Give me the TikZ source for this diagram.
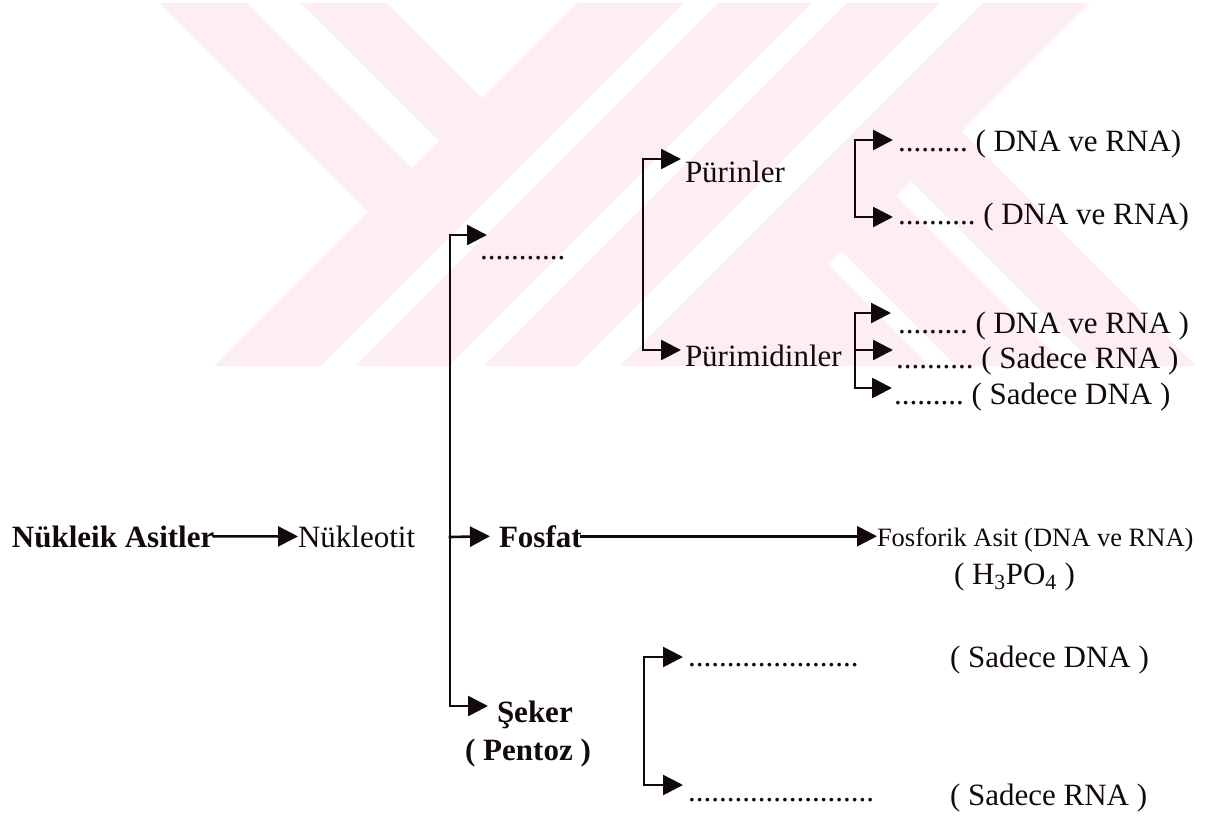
\documentclass[tikz,border=0pt]{standalone}
\usepackage{fontspec}
\setmainfont{Liberation Serif}
\usetikzlibrary{arrows.meta}
\definecolor{wm}{RGB}{253,238,241}
\definecolor{ink}{RGB}{18,10,10}
\tikzset{
  txt/.style={inner sep=0pt, outer sep=0pt, anchor=base west, text=ink,
    font=\fontsize{31}{36}\selectfont\frenchspacing},
  btxt/.style={txt, font=\fontsize{31}{36}\selectfont\bfseries\frenchspacing},
  stxt/.style={txt, font=\fontsize{26.5}{30}\selectfont\frenchspacing},
  ln/.style={draw=ink, line width=2.6pt, line cap=rect},
  arr/.style={ln, -{Triangle[length=20pt,width=20pt]}},
}
\begin{document}
\begin{tikzpicture}[x=1pt,y=-1pt]
\useasboundingbox (0,0) rectangle (1228,818);
% watermark stripes
\fill[wm] (577,3) -- (684,3) -- (321,366) -- (214,366) -- cycle;
\fill[wm] (159,3) -- (247,3) -- (422,178) -- (378,222) -- cycle;
\fill[wm] (301,3) -- (387,3) -- (492,108) -- (449,151) -- cycle;
\fill[wm] (718,3) -- (812,3) -- (449,366) -- (355,366) -- cycle;
\fill[wm] (847,3) -- (940,3) -- (577,366) -- (484,366) -- cycle;
\fill[wm] (983,3) -- (1090,3) -- (727,366) -- (620,366) -- cycle;
\fill[wm] (901.5,171.5) -- (951.5,121.5) -- (1196,366) -- (1096,366) -- cycle;
\fill[wm] (831.5,241.5) -- (886.5,186.5) -- (1066,366) -- (956,366) -- cycle;
\fill[wm] (818,255) -- (929,366) -- (707,366) -- cycle;

% main row
\node[btxt] (na) at (12,547) {Nükleik Asitler};
\node[txt] (nt) at (298,547) {Nükleotit};
\draw[arr] (na.east) -- (nt.west);

% first fork
\coordinate (v1t) at (450,235);
\coordinate (v1b) at (450,706);
\coordinate (vf) at (450,537);
\coordinate (a1) at (487,235);
\coordinate (a3) at (488,706);
\draw[ln] (v1t) -- (v1b);
\node[txt] (d1) at (480,259) {...........};
\draw[arr] (v1t) -- (a1);
\node[btxt] (fos) at (499,547) {Fosfat};
\draw[arr] (vf) -- ([xshift=-9pt]fos.west);
\node[stxt] (fk) at (877,546) {Fosforik Asit (DNA ve RNA)};
\draw[arr] (fos.east) -- (fos.east -| fk.west);
\node[txt] (hp) at (954,584) {( H\textsubscript{3}PO\textsubscript{4} )};
\node[btxt] (sk) at (497,722) {Şeker};
\node[btxt, anchor=base] (pz) at (528,760) {( Pentoz )};
\draw[arr] (v1b) -- (a3);

% purin / pirimidin fork
\coordinate (v2t) at (643,159);
\coordinate (v2b) at (643,350);
\coordinate (p1) at (681,159);
\coordinate (p2) at (681,350);
\draw[ln] (v2t) -- (v2b);
\draw[arr] (v2t) -- (p1);
\draw[arr] (v2b) -- (p2);
\node[txt] (pu) at (685,183) {Pürinler};
\node[txt] (pm) at (685,366) {Pürimidinler};

% purinler sub
\coordinate (v3t) at (855,140);
\coordinate (v3b) at (855,217);
\coordinate (q1) at (893,140);
\coordinate (q2) at (893,217);
\draw[ln] (v3t) -- (v3b);
\draw[arr] (v3t) -- (q1);
\draw[arr] (v3b) -- (q2);
\node[txt] (r1) at (898,152) {......... ( DNA ve RNA)};
\node[txt] (r2) at (898,225) {.......... ( DNA ve RNA)};

% pirimidinler sub
\coordinate (v4t) at (855,313);
\coordinate (v4m) at (855,350);
\coordinate (v4b) at (855,388);
\coordinate (q3) at (891,313);
\coordinate (q4) at (893,350);
\coordinate (q5) at (892,388);
\draw[ln] (v4t) -- (v4b);
\draw[arr] (v4t) -- (q3);
\draw[arr] (v4m) -- (q4);
\draw[arr] (v4b) -- (q5);
\node[txt] (r3) at (898,333) {......... ( DNA ve RNA )};
\node[txt] (r4) at (896,368) {.......... ( Sadece RNA )};
\node[txt] (r5) at (894,404) {......... ( Sadece DNA )};

% seker sub
\coordinate (v5t) at (644,657);
\coordinate (v5b) at (644,785);
\coordinate (s1) at (683,657);
\coordinate (s2) at (683,785);
\draw[ln] (v5t) -- (v5b);
\draw[arr] (v5t) -- (s1);
\draw[arr] (v5b) -- (s2);
\node[txt] (t1) at (688,666) {......................};
\node[txt] (t2) at (688,801) {........................};
\node[txt] (u1) at (950,667) {( Sadece DNA )};
\node[txt] (u2) at (950,805) {( Sadece RNA )};
\end{tikzpicture}
\end{document}
